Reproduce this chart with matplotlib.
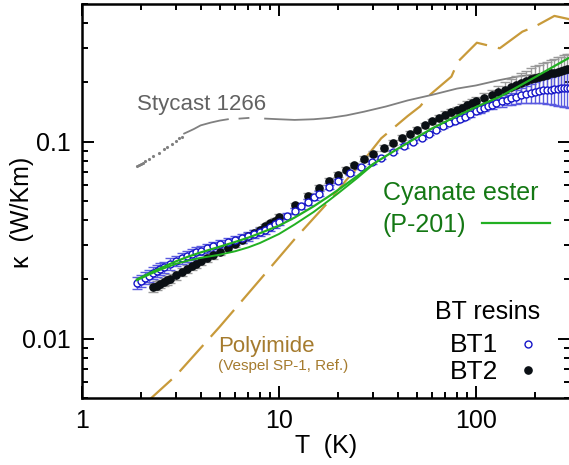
import matplotlib
matplotlib.use("Agg")
import matplotlib.pyplot as plt
import matplotlib.ticker as ticker
import numpy as np

plt.rcParams['font.family'] = ['Liberation Sans', 'DejaVu Sans']

# BT1 (open blue circles)
bt1_T = [1.9, 2.0, 2.1, 2.2, 2.3, 2.4, 2.5, 2.6, 2.8, 3.0, 3.2, 3.4, 3.6, 3.8, 4.0, 4.3, 4.6,
         5.0, 5.5, 6.0, 6.5, 7.0, 7.5, 8.0, 8.5, 9.0, 9.5, 10, 11, 12, 13, 14, 15, 16, 18, 20,
         23, 26, 29.6, 33, 38, 43, 48, 53, 58, 63, 68, 73, 78, 83, 88, 93, 100, 105, 110, 115,
         120, 127, 135, 143, 150, 160, 170, 180, 190, 200, 210, 220, 230, 240, 250, 260, 270,
         280, 290, 300]
bt1_k = [0.0192, 0.0197, 0.0203, 0.0209, 0.0215, 0.0221, 0.0226, 0.0231, 0.0240, 0.0249, 0.0256,
         0.0262, 0.0268, 0.0274, 0.0280, 0.0287, 0.0294, 0.0301, 0.0309, 0.0316, 0.0323, 0.0331,
         0.0339, 0.0348, 0.0358, 0.0368, 0.0380, 0.0393, 0.0420, 0.0446, 0.0472, 0.0497, 0.0521,
         0.0545, 0.0590, 0.0632, 0.0690, 0.0740, 0.0785, 0.0830, 0.0890, 0.0950, 0.1000, 0.1050,
         0.1100, 0.1150, 0.1200, 0.1240, 0.1270, 0.1310, 0.1340, 0.1380, 0.1430, 0.1460, 0.1490,
         0.1520, 0.1540, 0.1570, 0.1600, 0.1630, 0.1660, 0.1690, 0.1720, 0.1750, 0.1770, 0.1790,
         0.1810, 0.1820, 0.1830, 0.1840, 0.1850, 0.1860, 0.1870, 0.1870, 0.1880, 0.1880]
bt1_err = [0.07, 0.07, 0.07, 0.07, 0.07, 0.07, 0.07, 0.065, 0.065, 0.06, 0.06, 0.06, 0.06, 0.06,
           0.055, 0.055, 0.055, 0.05, 0.05, 0.05, 0.05, 0.05, 0.045, 0.045, 0.045, 0.045, 0.04,
           0.04, 0.04, 0.035, 0.035, 0.035, 0.03, 0.03, 0.025, 0.02, 0.02, 0.02, 0.02, 0.02, 0.02,
           0.02, 0.02, 0.02, 0.02, 0.02, 0.02, 0.02, 0.02, 0.03, 0.03, 0.03, 0.03, 0.04, 0.04,
           0.04, 0.05, 0.05, 0.06, 0.06, 0.07, 0.08, 0.09, 0.10, 0.11, 0.12, 0.13, 0.14, 0.15,
           0.16, 0.17, 0.18, 0.19, 0.20, 0.20, 0.21]

# BT2 (filled black circles)
bt2_T = [2.3, 2.4, 2.5, 2.6, 2.7, 2.8, 3.0, 3.2, 3.4, 3.6, 3.8, 4.0, 4.3, 4.6, 5.0, 5.5, 6.0,
         6.5, 7.0, 7.5, 8.0, 8.5, 9.0, 9.5, 10, 12, 14, 16, 18, 20, 22, 24, 27, 30, 34, 38, 42,
         46, 50, 55, 60, 65, 70, 75, 80, 85, 90, 95, 100, 110, 120, 130, 140, 150, 160, 170,
         180, 190, 200, 210, 220, 230, 240, 250, 260, 270, 280, 290, 300]
bt2_k = [0.0182, 0.0186, 0.0190, 0.0194, 0.0198, 0.0202, 0.0210, 0.0218, 0.0226, 0.0233, 0.0240,
         0.0247, 0.0256, 0.0265, 0.0276, 0.0290, 0.0304, 0.0318, 0.0331, 0.0344, 0.0358, 0.0372,
         0.0386, 0.0398, 0.0415, 0.0475, 0.0530, 0.0585, 0.0635, 0.0680, 0.0720, 0.0760, 0.0820,
         0.0870, 0.0930, 0.0990, 0.1050, 0.1100, 0.1150, 0.1210, 0.1270, 0.1320, 0.1370, 0.1410,
         0.1450, 0.1490, 0.1530, 0.1570, 0.1600, 0.1660, 0.1720, 0.1780, 0.1840, 0.1890, 0.1940,
         0.1990, 0.2030, 0.2070, 0.2100, 0.2130, 0.2160, 0.2190, 0.2220, 0.2240, 0.2270, 0.2290,
         0.2310, 0.2330, 0.2350]
bt2_err = [0.05, 0.05, 0.05, 0.05, 0.05, 0.05, 0.05, 0.05, 0.045, 0.045, 0.045, 0.045, 0.04, 0.04,
           0.04, 0.04, 0.035, 0.035, 0.035, 0.03, 0.03, 0.03, 0.03, 0.03, 0.03, 0.03, 0.03, 0.03,
           0.03, 0.03, 0.03, 0.03, 0.03, 0.03, 0.03, 0.03, 0.03, 0.03, 0.03, 0.03, 0.03, 0.03,
           0.04, 0.04, 0.04, 0.04, 0.05, 0.05, 0.05, 0.06, 0.07, 0.08, 0.09, 0.10, 0.11, 0.12,
           0.13, 0.14, 0.15, 0.15, 0.16, 0.16, 0.17, 0.17, 0.18, 0.18, 0.19, 0.19, 0.19]

# Cyanate ester (P-201), two green curves
ce1_T = [1.9, 2.2, 2.5, 3.0, 3.5, 4.0, 5.0, 6.0, 7.0, 8.0, 10, 12, 15, 18, 20, 25, 30, 40, 50,
         60, 80, 100, 132, 160, 200, 250, 300]
ce1_k = [0.0200, 0.0215, 0.0228, 0.0247, 0.0262, 0.0274, 0.0293, 0.0310, 0.0326, 0.0343, 0.0375,
         0.0412, 0.0470, 0.0530, 0.0570, 0.0670, 0.0770, 0.0920, 0.1050, 0.1170, 0.1350, 0.1500,
         0.1690, 0.1880, 0.2130, 0.2420, 0.2680]
ce2_T = [1.9, 2.2, 2.5, 3.0, 3.5, 4.0, 5.0, 6.0, 7.0, 8.0, 10, 12, 15, 18, 20, 25, 30]
ce2_k = [0.0198, 0.0212, 0.0224, 0.0240, 0.0250, 0.0257, 0.0267, 0.0278, 0.0291, 0.0306, 0.0340,
         0.0380, 0.0440, 0.0505, 0.0548, 0.0655, 0.0765]

# Stycast 1266 (gray): scattered low-T points, then a continuous trace
sty_dot_T = [1.9, 1.95, 2.0, 2.05, 2.1, 2.2, 2.3, 2.45, 2.6, 2.7, 2.85, 3.0, 3.1, 3.2]
sty_dot_k = [0.075, 0.076, 0.077, 0.078, 0.080, 0.082, 0.085, 0.088, 0.092, 0.094, 0.097,
             0.101, 0.104, 0.106]
sty_T = [3.3, 3.5, 3.7, 4.0, 4.5, 5.0, 5.5, 5.8, 6.3, 7.0, 7.5, 8.5, 10, 12, 15, 18, 22, 27, 35,
         45, 60, 80, 100, 130, 166, 200, 250, 300]
sty_k = [0.110, 0.113, 0.116, 0.121, 0.125, 0.128, 0.130, np.nan, 0.131, 0.132, np.nan, 0.131,
         0.130, 0.129, 0.130, 0.132, 0.136, 0.142, 0.151, 0.162, 0.173, 0.186, 0.193, 0.205,
         0.215, 0.219, 0.224, 0.228]

# Polyimide (Vespel SP-1, reference)
pi_T = [2.1, 3.0, 5.0, 8.0, 12, 18, 22, 26, 33, 45, 52, 58, 66, 75, 81, 101, 132, 172, 199,
        250, 300]
pi_k = [0.0047, 0.0065, 0.0115, 0.0199, 0.032, 0.050, 0.064, 0.077, 0.104, 0.135, 0.151, 0.172,
        0.192, 0.214, 0.255, 0.318, 0.298, 0.362, 0.384, 0.435, 0.418]

W, H = 569, 465
fig = plt.figure(figsize=(W / 100, H / 100), dpi=100)
ax = fig.add_axes([82 / W, 67 / H, 488 / W, 394 / H])

gold = '#c89a3a'
gold_txt = '#a57b2e'
green = '#22b022'
green_txt = '#147814'
blue = '#1515c8'

ax.plot(pi_T, pi_k, color=gold, lw=1.6, dashes=(16, 5), zorder=2)
ax.plot(sty_dot_T, sty_dot_k, '.', ms=2.5, color='#808080', zorder=2)
ax.plot(sty_T, sty_k, color='#808080', lw=1.3, zorder=2)

bt1_T = np.array(bt1_T)
bt1_k = np.array(bt1_k)
bt2_T = np.array(bt2_T)
bt2_k = np.array(bt2_k)
ax.errorbar(bt2_T, bt2_k, yerr=bt2_k * np.array(bt2_err), fmt='none', ecolor='#9a9a9a',
            elinewidth=1, capsize=3.5, capthick=1, zorder=3)
ax.errorbar(bt1_T, bt1_k, yerr=bt1_k * np.array(bt1_err), fmt='none', ecolor='#5a5ae0',
            elinewidth=1, capsize=3.5, capthick=1, zorder=3)
ax.plot(bt2_T, bt2_k, 'o', ms=5.2, color='#0a0f14', mec='#0a0f14', zorder=4)
ax.plot(bt1_T, bt1_k, 'o', ms=5.0, mfc='white', mec=blue, mew=1.0, zorder=5)

ax.plot(ce1_T, ce1_k, color=green, lw=1.6, zorder=6)
ax.plot(ce2_T, ce2_k, color=green, lw=1.4, zorder=6)

ax.set_xscale('log')
ax.set_yscale('log')
ax.set_xlim(1, 300)
ax.set_ylim(0.005, 0.5)

ax.xaxis.set_major_locator(ticker.FixedLocator([1, 10, 100]))
ax.xaxis.set_major_formatter(ticker.FixedFormatter(['1', '10', '100']))
ax.xaxis.set_minor_locator(ticker.LogLocator(base=10, subs=np.arange(2, 10)))
ax.xaxis.set_minor_formatter(ticker.NullFormatter())
ax.yaxis.set_major_locator(ticker.FixedLocator([0.01, 0.1]))
ax.yaxis.set_major_formatter(ticker.FixedFormatter(['0.01', '0.1']))
ax.yaxis.set_minor_locator(ticker.LogLocator(base=10, subs=np.arange(2, 10)))
ax.yaxis.set_minor_formatter(ticker.NullFormatter())

ax.tick_params(which='both', direction='in', top=True, right=True, width=1.4, colors='black')
ax.tick_params(which='major', length=8.5, labelsize=18)
ax.tick_params(axis='x', which='major', pad=8)
ax.tick_params(axis='y', which='major', pad=8)
ax.tick_params(which='minor', length=4)
for s in ax.spines.values():
    s.set_linewidth(1.8)

ax.set_xlabel('T  (K)', fontsize=18)
ax.set_ylabel('\u03ba  (W/Km)', fontsize=18)
ax.xaxis.set_label_coords(0.5, -0.092)
ax.yaxis.set_label_coords(-0.098, 0.47)


def ftxt(px, py, s, **kw):
    fig.text(px / W, 1 - py / H, s, **kw)


ftxt(137, 110, 'Stycast 1266', fontsize=16, color='#626262', va='baseline')
ftxt(383, 200, 'Cyanate ester', fontsize=18, color=green_txt, va='baseline')
ftxt(383, 232, '(P-201)', fontsize=18, color=green_txt, va='baseline')
ax.plot([482 / W, 550 / W], [1 - 223 / H, 1 - 223 / H], color=green, lw=1.6,
        transform=fig.transFigure, clip_on=False)
ftxt(435, 319, 'BT resins', fontsize=18, color='black', va='baseline')
ftxt(450, 352, 'BT1', fontsize=19, color='black', va='baseline')
ftxt(450, 379, 'BT2', fontsize=19, color='black', va='baseline')
ax.plot([528 / W], [1 - 343.5 / H], 'o', ms=5.0, mfc='white', mec=blue, mew=1.0,
        transform=fig.transFigure, clip_on=False)
ax.plot([528 / W], [1 - 369.5 / H], 'o', ms=5.2, color='#0a0f14',
        transform=fig.transFigure, clip_on=False)
ftxt(218, 352, 'Polyimide', fontsize=16, color=gold_txt, va='baseline')
ftxt(218, 370, '(Vespel SP-1, Ref.)', fontsize=11, color=gold_txt, va='baseline')

fig.savefig('out.png', dpi=100)
